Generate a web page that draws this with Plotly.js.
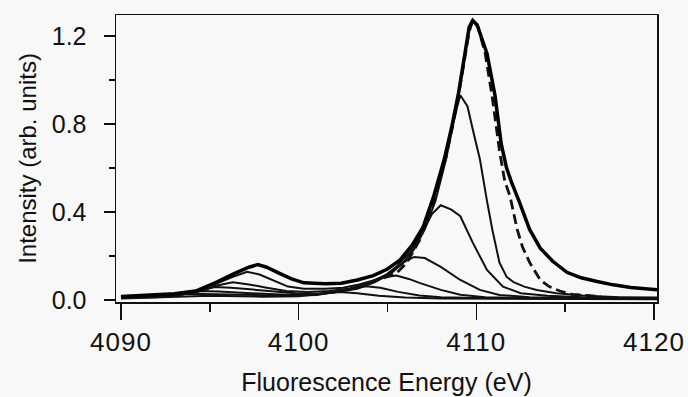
<!DOCTYPE html>
<html>
<head>
<meta charset="utf-8">
<script src="https://cdn.plot.ly/plotly-3.0.1.min.js"></script>
<style>
html,body{margin:0;padding:0;background:#f8f8f8;}
#chart{width:688px;height:397px;}
.xtick text{letter-spacing:1px;}
</style>
</head>
<body>
<div id="chart"></div>
<script>
// Envelope (thick) spectrum
const xA = [4090, 4091.5, 4093, 4094.2, 4095.3, 4096.4, 4097.2, 4097.7, 4098.2, 4098.8, 4099.6, 4100.3, 4101.5, 4102.4, 4103.3, 4104.2, 4105.0, 4105.7, 4106.4, 4107.0, 4107.6, 4108.2, 4108.6, 4109.0, 4109.3, 4109.6, 4109.8, 4110.05, 4110.3, 4110.6, 4111.05, 4111.4, 4111.7, 4112.0, 4112.4, 4113.0, 4113.6, 4114.3, 4115.1, 4115.9, 4116.8, 4117.7, 4118.7, 4119.5, 4120.2];
const yA = [0.015, 0.02, 0.028, 0.04, 0.077, 0.12, 0.148, 0.16, 0.148, 0.125, 0.095, 0.077, 0.073, 0.075, 0.09, 0.11, 0.14, 0.18, 0.25, 0.33, 0.47, 0.64, 0.78, 0.94, 1.10, 1.24, 1.27, 1.25, 1.19, 1.12, 0.93, 0.71, 0.6, 0.53, 0.45, 0.32, 0.235, 0.175, 0.125, 0.10, 0.083, 0.068, 0.056, 0.05, 0.045];

// Spectrum peaking at 0.93
const xB = [4090, 4091.5, 4093, 4094.2, 4095.3, 4096.3, 4097.1, 4097.8, 4098.5, 4099.4, 4100.3, 4101.5, 4102.5, 4103.4, 4104.3, 4105.1, 4105.8, 4106.5, 4107.1, 4107.7, 4108.3, 4108.8, 4109.1, 4109.5, 4109.9, 4110.2, 4110.6, 4110.9, 4111.3, 4111.7, 4112.1, 4112.7, 4113.4, 4114.5, 4116, 4118, 4120.2];
const yB = [0.015, 0.02, 0.028, 0.04, 0.072, 0.105, 0.127, 0.115, 0.09, 0.06, 0.05, 0.05, 0.055, 0.07, 0.09, 0.12, 0.16, 0.23, 0.32, 0.45, 0.64, 0.84, 0.93, 0.88, 0.74, 0.64, 0.45, 0.32, 0.17, 0.105, 0.08, 0.06, 0.045, 0.03, 0.02, 0.012, 0.01];

// Spectrum peaking at 0.43
const xC = [4090, 4092, 4093.5, 4094.5, 4095.4, 4096.3, 4097.2, 4098.2, 4099.3, 4100.5, 4101.7, 4102.8, 4103.8, 4104.7, 4105.5, 4106.3, 4107.0, 4107.5, 4108.0, 4108.6, 4109.1, 4109.8, 4110.6, 4111.5, 4112.5, 4114, 4116, 4118, 4120.2];
const yC = [0.012, 0.018, 0.025, 0.04, 0.065, 0.08, 0.07, 0.055, 0.04, 0.035, 0.04, 0.05, 0.07, 0.1, 0.15, 0.22, 0.31, 0.39, 0.43, 0.41, 0.38, 0.26, 0.136, 0.06, 0.03, 0.018, 0.012, 0.01, 0.008];

// Spectrum peaking at 0.20
const xD = [4090, 4092, 4093.5, 4094.5, 4095.3, 4096.2, 4097.3, 4098.5, 4099.8, 4101, 4102.2, 4103.3, 4104.3, 4105.2, 4105.9, 4106.5, 4107.1, 4108.0, 4109.1, 4110.2, 4111.3, 4113, 4116, 4120.2];
const yD = [0.01, 0.015, 0.025, 0.045, 0.058, 0.055, 0.048, 0.04, 0.03, 0.028, 0.035, 0.05, 0.08, 0.12, 0.17, 0.195, 0.19, 0.15, 0.09, 0.045, 0.022, 0.012, 0.008, 0.006];

// Spectrum peaking at 0.11
const xE = [4090, 4092, 4093.5, 4094.5, 4095.5, 4096.8, 4098.3, 4099.8, 4101.2, 4102.5, 4103.6, 4104.6, 4105.5, 4106.2, 4106.8, 4108.0, 4109.1, 4110.5, 4113, 4120.2];
const yE = [0.01, 0.014, 0.025, 0.04, 0.038, 0.032, 0.026, 0.022, 0.025, 0.04, 0.065, 0.1, 0.11, 0.095, 0.077, 0.045, 0.023, 0.012, 0.008, 0.005];

// Spectrum peaking at 0.06
const xF = [4090, 4092, 4093.8, 4095.5, 4097.5, 4099.5, 4101, 4102.3, 4103.2, 4103.8, 4104.6, 4105.6, 4106.8, 4108, 4110, 4120.2];
const yF = [0.008, 0.012, 0.028, 0.025, 0.02, 0.018, 0.022, 0.04, 0.055, 0.062, 0.055, 0.036, 0.02, 0.012, 0.008, 0.004];

// Spectrum peaking at 0.035
const xG = [4090, 4093, 4095, 4098, 4100, 4101.3, 4102.3, 4103.3, 4104.5, 4106, 4108, 4120.2];
const yG = [0.006, 0.012, 0.018, 0.014, 0.016, 0.028, 0.036, 0.03, 0.018, 0.01, 0.006, 0.003];

// Dashed reference spectrum
const xDash = [4104.8, 4105.5, 4106.1, 4106.8, 4107.6, 4108.3, 4108.9, 4109.3, 4109.6, 4109.8, 4110.1, 4110.5, 4110.9, 4111.3, 4111.6, 4111.9, 4112.3, 4112.6, 4113.0, 4113.6, 4114.1, 4114.7, 4115.4, 4116.2, 4117];
const yDash = [0.1, 0.12, 0.17, 0.27, 0.45, 0.65, 0.88, 1.08, 1.22, 1.27, 1.24, 1.12, 0.92, 0.68, 0.54, 0.47, 0.32, 0.24, 0.17, 0.09, 0.06, 0.04, 0.025, 0.02, 0.015];

const xTickVals = [4090, 4100, 4110, 4120];
const yTickVals = [0.0, 0.4, 0.8, 1.2];

const thin = {color: '#111', width: 2};
const traces = [
  {x: xG, y: yG, mode: 'lines', line: thin},
  {x: xF, y: yF, mode: 'lines', line: thin},
  {x: xE, y: yE, mode: 'lines', line: thin},
  {x: xD, y: yD, mode: 'lines', line: thin},
  {x: xC, y: yC, mode: 'lines', line: thin},
  {x: xB, y: yB, mode: 'lines', line: thin},
  {x: xDash, y: yDash, mode: 'lines', line: {color: '#111', width: 2.8, dash: '10px,5px'}},
  {x: xA, y: yA, mode: 'lines', line: {color: '#000', width: 3.5}}
];

const font = 'Liberation Sans, Arial, Helvetica, sans-serif';
const layout = {
  width: 688, height: 397,
  margin: {l: 116, r: 31, t: 15, b: 95},
  paper_bgcolor: '#f8f8f8',
  plot_bgcolor: '#f8f8f8',
  showlegend: false,
  font: {family: font, color: '#111'},
  xaxis: {
    range: [4089.72, 4120.17],
    tickvals: xTickVals,
    ticktext: xTickVals.map(String),
    ticks: 'outside', ticklen: 16, tickwidth: 1.5, tickcolor: '#111',
    minor: {dtick: 5, tick0: 4090, ticks: 'outside', ticklen: 8, tickwidth: 1.5, tickcolor: '#111'},
    showline: true, linecolor: '#111', linewidth: 1.5, mirror: true,
    showgrid: false, zeroline: false,
    tickfont: {size: 26, family: font, color: '#111'},
    ticklabelstandoff: 0,
    title: {text: 'Fluorescence Energy (eV)', font: {size: 25, family: font, color: '#111'}, standoff: 18}
  },
  yaxis: {
    range: [-0.01, 1.295],
    tickvals: yTickVals,
    ticktext: yTickVals.map(v => v.toFixed(1)),
    ticks: 'outside', ticklen: 11, tickwidth: 1.5, tickcolor: '#111',
    minor: {dtick: 0.2, tick0: 0, ticks: 'outside', ticklen: 6, tickwidth: 1.5, tickcolor: '#111'},
    showline: true, linecolor: '#111', linewidth: 1.5, mirror: true,
    showgrid: false, zeroline: false,
    tickfont: {size: 25, family: font, color: '#111'},
    ticklabelstandoff: 12,
    title: {text: 'Intensity (arb. units)', font: {size: 24, family: font, color: '#111'}, standoff: 8}
  }
};

Plotly.newPlot('chart', traces, layout, {displayModeBar: false, staticPlot: true});
</script>
</body>
</html>
